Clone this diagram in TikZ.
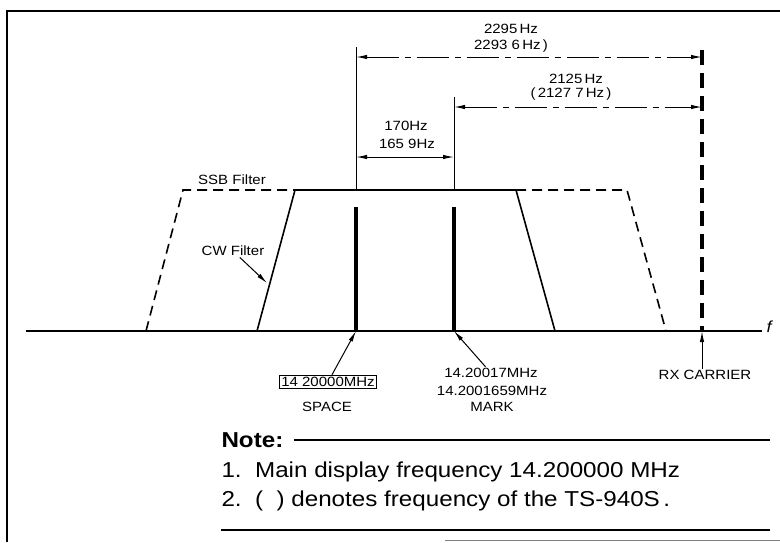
\documentclass[tikz,border=0pt]{standalone}
\usepackage{fontspec}
\setmainfont{Liberation Sans}[FakeStretch=1.12]
\usetikzlibrary{arrows.meta}
\tikzset{
  lbl/.style={font=\fontsize{6.7}{7}\selectfont, inner sep=0.5pt},
  note/.style={font=\fontsize{10.8}{12}\selectfont, inner sep=0pt, anchor=west},
  dimline/.style={line width=0.5pt, {Latex[length=5.5pt,width=2.2pt]}-{Latex[length=5.5pt,width=2.2pt]}},
  dashdot/.style={dash pattern=on 16pt off 3pt on 3pt off 3pt},
  pointer/.style={line width=0.5pt, -{Latex[length=5.5pt,width=2.2pt]}},
  filt/.style={line width=0.8pt},
  ssbdash/.style={dash pattern=on 5pt off 3pt},
  tone/.style={line width=2.2pt},
}
\begin{document}
\begin{tikzpicture}[x=0.5pt, y=-0.5pt, line width=0.5pt]
  \useasboundingbox (0,0) rectangle (780,542);
  % frame
  \draw[line width=1pt] (7,542) -- (7,11) -- (780,11);
  \draw[line width=0.5pt, gray] (445,540) -- (780,540);
  % frequency axis
  \coordinate (axl) at (26,331);
  \coordinate (axr) at (762,331);
  \draw[line width=1pt] (axl) -- (axr);
  \node[lbl, font=\fontsize{8}{9}\selectfont\itshape] (f) at (769,327) {f};
  % filter passbands
  \draw[filt, ssbdash] (146,331) -- (183,190) -- (295,190);
  \draw[filt, ssbdash] (516,190) -- (627,190) -- (666,331);
  \draw[filt] (257,331) -- (295,190) -- (516,190) -- (555,331);
  % tones and carrier
  \coordinate (sp) at (356,331);
  \coordinate (mk) at (454,331);
  \coordinate (rx) at (702,331);
  \coordinate (rxtop) at (702,50);
  \draw[tone] (sp) -- ++(0,-124);
  \draw[tone] (mk) -- ++(0,-124);
  \draw[line width=2pt, dash pattern=on 7.5pt off 4pt] (rxtop) -- (rx);
  \draw (356,190) -- (356,47);
  \draw (454,190) -- (454,97);
  % spacings
  \coordinate (d1l) at (356,57);
  \coordinate (d1r) at (702,57);
  \coordinate (d2l) at (454,107);
  \coordinate (d2r) at (702,107);
  \coordinate (d3l) at (356,157);
  \coordinate (d3r) at (454,157);
  \draw[dimline, dashdot] (d1l) -- (d1r);
  \draw[dimline, dashdot] (d2l) -- (d2r);
  \draw[dimline] (d3l) -- (d3r);
  \node[lbl] (f2295) at (511,29) {2295\,Hz};
  \node[lbl] (f22936) at (511,46) {2293 6\,Hz\,)};
  \node[lbl] (f2125) at (576,79) {2125\,Hz};
  \node[lbl] (f21277) at (571,94) {(\,2127 7\,Hz\,)};
  \node[lbl] (f170) at (406,126) {170Hz};
  \node[lbl] (f1659) at (407,144) {165 9Hz};
  % filter labels
  \node[lbl] (ssb) at (232,180) {SSB Filter};
  \node[lbl] (cw) at (233,251) {CW Filter};
  \draw[pointer] (cw) -- (267,283);
  % tone labels
  \node[lbl, draw, line width=0.45pt, inner sep=1pt] (spf) at (328,382) {14 20000MHz};
  \node[lbl] (spn) at (327,407) {SPACE};
  \draw[pointer] (spf) -- (sp);
  \node[lbl] (mkf1) at (491,373) {14.20017MHz};
  \node[lbl] (mkf2) at (492,391) {14.2001659MHz};
  \node[lbl] (mkn) at (492,407) {MARK};
  \draw[pointer] (mkf1) -- (mk);
  \node[lbl] (rxn) at (705,375) {RX CARRIER};
  \draw[pointer] (rxn.north -| rx) -- (rx);
  % notes
  \node[note, font=\bfseries\fontsize{10.8}{12}\selectfont] (note) at (221,440) {Note:};
  \coordinate (ruleend) at (770,440);
  \draw[line width=0.7pt] ([xshift=5pt]note.east) -- (ruleend);
  \node[note] (n1) at (221,472) {1.\ \ Main display frequency 14.200000 MHz};
  \node[note] (n2) at (221,501) {2.\ \ (\ \ ) denotes frequency of the TS-940S\,.};
  \draw[line width=0.7pt] (221,530) -- (770,530);
\end{tikzpicture}
\end{document}
